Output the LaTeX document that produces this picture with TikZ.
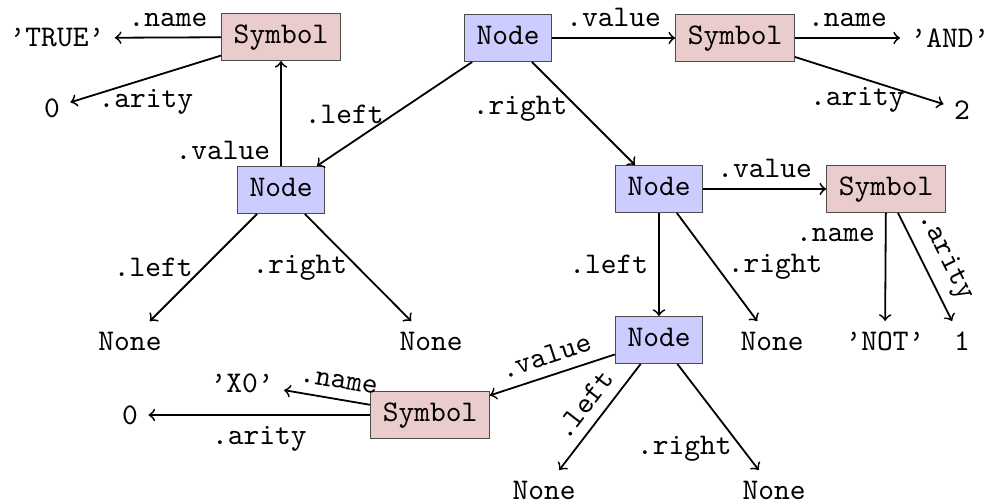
\documentclass[tikz,border=0pt]{standalone}
\definecolor{nodeblue}{RGB}{204,204,255}
\definecolor{sympink}{RGB}{234,204,204}
\tikzset{
  box/.style={draw=black!70, font=\ttfamily, text height=6.6pt, text depth=2.33pt, inner xsep=4pt, inner ysep=3.33pt},
  nd/.style={box, fill=nodeblue},
  sym/.style={box, fill=sympink},
  val/.style={font=\ttfamily},
  lbl/.style={font=\ttfamily},
  arr/.style={->, line width=0.6pt}
}
\begin{document}
\begin{tikzpicture}[x=0.3333pt, y=-0.3333pt]
\useasboundingbox (0,0) rectangle (999,504);
% boxes
\node[sym] (s1) at (281,37) {Symbol};
\node[nd]  (n1) at (508,38) {Node};
\node[sym] (s2) at (735,38) {Symbol};
\node[nd]  (n2) at (281,190) {Node};
\node[nd]  (n3) at (659,189) {Node};
\node[sym] (s3) at (886,189) {Symbol};
\node[nd]  (n4) at (659,340) {Node};
\node[sym] (s4) at (430,415) {Symbol};
% values
\node[val] (true) at (57,38) {’TRUE’};
\node[val] (z1) at (52,108) {0};
\node[val] (and) at (950,38) {’AND’};
\node[val] (two) at (962,110) {2};
\node[val] (na) at (130,341) {None};
\node[val] (nb) at (431,341) {None};
\node[val] (nc) at (772,341) {None};
\node[val] (not) at (885,341) {’NOT’};
\node[val] (one) at (962,341) {1};
\node[val] (x0) at (242,383) {’X0’};
\node[val] (z2) at (130,415) {0};
\node[val] (ndd) at (544,490) {None};
\node[val] (nee) at (774,490) {None};
% connectors
\draw[arr] (s1) -- node[lbl,above]{.name} (true);
\draw[arr] (s1) -- node[lbl,below]{.arity} (z1);
\draw[arr] (n2) -- node[lbl,left,pos=0.15]{.value} (s1);
\draw[arr] (n1) -- node[lbl,left]{.left} (n2);
\draw[arr] (n1) -- node[lbl,left,pos=0.45]{.right} (n3);
\draw[arr] (n1) -- node[lbl,above]{.value} (s2);
\draw[arr] (s2) -- node[lbl,above]{.name} (and);
\draw[arr] (s2) -- node[lbl,below,pos=0.42]{.arity} (two);
\draw[arr] (n2) -- node[lbl,left]{.left} (na);
\draw[arr] (n2) -- node[lbl,left]{.right} (nb);
\draw[arr] (n3) -- node[lbl,above]{.value} (s3);
\draw[arr] (n3) -- node[lbl,left]{.left} (n4);
\draw[arr] (n3) -- node[lbl,right]{.right} (nc);
\draw[arr] (s3) -- node[lbl,left,pos=0.2]{.name} (not);
\draw[arr] (s3) -- node[lbl,above,sloped]{.arity} (one);
\draw[arr] (n4) -- node[lbl,above,sloped]{.value} (s4);
\draw[arr] (n4) -- node[lbl,above,sloped]{.left} (ndd);
\draw[arr] (n4) -- node[lbl,left,pos=0.8]{.right} (nee);
\draw[arr] (s4) -- node[lbl,above,sloped,pos=0.4]{.name} (x0);
\draw[arr] (s4) -- node[lbl,below]{.arity} (z2);
\end{tikzpicture}
\end{document}
